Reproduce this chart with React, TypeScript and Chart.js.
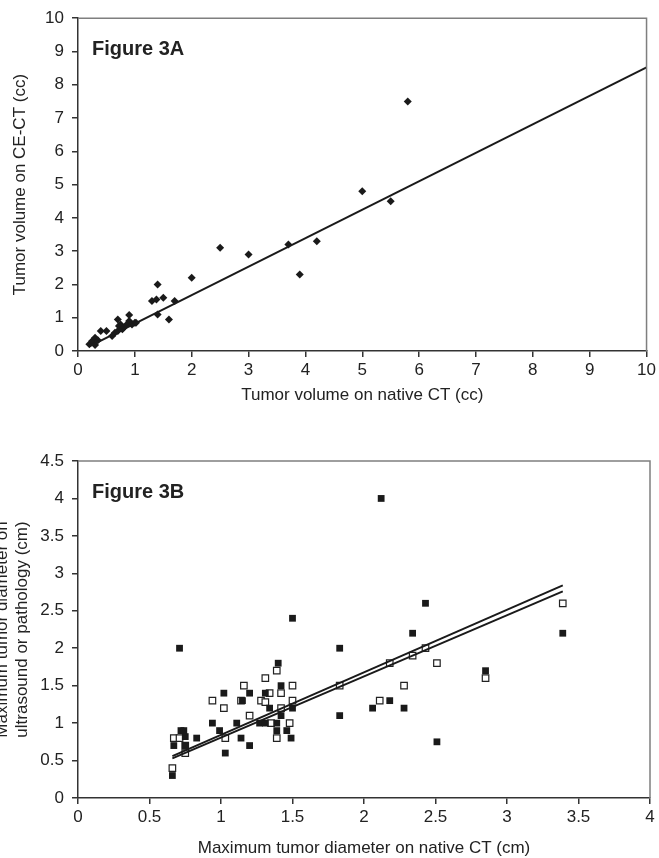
import React, { useEffect, useRef } from "react";
import { Chart, registerables } from "chart.js";

Chart.register(...registerables);

// ---------- Figure 3A data ----------
const nativeVolumeCC = [0.2, 0.25, 0.3, 0.3, 0.35, 0.4, 0.5, 0.6, 0.65, 0.7, 0.7, 0.72, 0.75, 0.78, 0.8, 0.85, 0.9, 0.9, 0.95, 1.0, 1.02, 1.3, 1.38, 1.4, 1.4, 1.5, 1.6, 1.7, 2.0, 2.5, 3.0, 3.7, 3.9, 4.2, 5.0, 5.5, 5.8];
const ceVolumeCC = [0.2, 0.3, 0.18, 0.4, 0.32, 0.6, 0.6, 0.45, 0.55, 0.6, 0.95, 0.75, 0.8, 0.65, 0.7, 0.78, 0.9, 1.08, 0.8, 0.85, 0.85, 1.5, 1.55, 2.0, 1.1, 1.6, 0.95, 1.5, 2.2, 3.1, 2.9, 3.2, 2.3, 3.3, 4.8, 4.5, 7.5];
const fitA_x = [0.2, 10];
const fitA_y = [0.14, 8.52];
const ticksA_x = { min: 0, max: 10, step: 1 };
const ticksA_y = { min: 0, max: 10, step: 1 };

// ---------- Figure 3B data ----------
const nativeDiamFilled = [0.66, 0.67, 0.71, 0.72, 0.74, 0.75, 0.75, 0.83, 0.94, 0.99, 1.02, 1.03, 1.11, 1.14, 1.15, 1.2, 1.2, 1.27, 1.31, 1.31, 1.34, 1.39, 1.39, 1.4, 1.42, 1.42, 1.46, 1.49, 1.5, 1.5, 1.83, 1.83, 2.06, 2.12, 2.18, 2.28, 2.34, 2.43, 2.51, 2.85, 3.39];
const refDiamFilled = [0.3, 0.7, 2.0, 0.9, 0.9, 0.82, 0.7, 0.8, 1.0, 0.9, 1.4, 0.6, 1.0, 0.8, 1.3, 1.4, 0.7, 1.0, 1.0, 1.4, 1.2, 1.0, 0.9, 1.8, 1.5, 1.1, 0.9, 0.8, 1.2, 2.4, 2.0, 1.1, 1.2, 4.0, 1.3, 1.2, 2.2, 2.6, 0.75, 1.7, 2.2];
const nativeDiamOpen = [0.66, 0.67, 0.71, 0.75, 0.75, 0.94, 1.02, 1.03, 1.14, 1.16, 1.2, 1.28, 1.31, 1.31, 1.34, 1.35, 1.39, 1.39, 1.42, 1.42, 1.48, 1.5, 1.5, 1.83, 2.11, 2.18, 2.28, 2.34, 2.43, 2.51, 2.85, 3.39];
const refDiamOpen = [0.4, 0.8, 0.8, 0.7, 0.6, 1.3, 1.2, 0.8, 1.3, 1.5, 1.1, 1.3, 1.6, 1.28, 1.4, 1.0, 1.7, 0.8, 1.4, 1.2, 1.0, 1.5, 1.3, 1.5, 1.3, 1.8, 1.5, 1.9, 2.0, 1.8, 1.6, 2.6];
const fitB1_x = [0.66, 3.39];
const fitB1_y = [0.56, 2.84];
const fitB2_x = [0.66, 3.39];
const fitB2_y = [0.53, 2.76];
const ticksB_x = { min: 0, max: 4, step: 0.5 };
const ticksB_y = { min: 0, max: 4.5, step: 0.5 };

const FONT = '"Liberation Sans", Arial, sans-serif';
const INK = "#222222";
const AXIS = "#333333";

const zip = (xs: number[], ys: number[]) => xs.map((x, i) => ({ x, y: ys[i] }));

const framePlugin = {
  id: "frameAndLabel",
  afterDraw(chart: any, _args: any, opts: any) {
    const { ctx, chartArea } = chart;
    const { left, right, top, bottom } = chartArea;
    ctx.save();
    ctx.strokeStyle = "#7f7f7f";
    ctx.lineWidth = 1.5;
    ctx.beginPath();
    ctx.moveTo(left, top);
    ctx.lineTo(right, top);
    ctx.lineTo(right, bottom);
    ctx.stroke();
    ctx.fillStyle = INK;
    ctx.font = `bold 20px ${FONT}`;
    ctx.textBaseline = "middle";
    ctx.textAlign = "left";
    ctx.fillText(opts.label, left + 14, top + 31);
    ctx.restore();
  },
};

function axis(range: { min: number; max: number; step: number }, title: any, fit: (s: any) => void, tickPad: number) {
  return {
    type: "linear",
    min: range.min,
    max: range.max,
    ticks: {
      stepSize: range.step,
      color: INK,
      padding: tickPad,
      font: { family: FONT, size: 17 },
      callback: (v: any) => String(Math.round(Number(v) * 10) / 10),
    },
    grid: { drawOnChartArea: false, drawTicks: true, tickLength: 6, color: AXIS, lineWidth: 1.5 },
    border: { display: true, color: AXIS, width: 1.5 },
    title,
    afterFit: fit,
  };
}

function makeChartA(canvas: HTMLCanvasElement) {
  return new Chart(canvas, {
    type: "scatter",
    data: {
      datasets: [
        {
          data: zip(fitA_x, fitA_y),
          showLine: true,
          pointRadius: 0,
          borderColor: "#1a1a1a",
          borderWidth: 2,
          fill: false,
        } as any,
        {
          data: zip(nativeVolumeCC, ceVolumeCC),
          pointStyle: "rectRot",
          pointRadius: 4,
          backgroundColor: "#1a1a1a",
          borderColor: "#1a1a1a",
          borderWidth: 0,
        },
      ],
    },
    options: {
      animation: false,
      responsive: false,
      layout: { padding: { top: 14, right: 12, left: 0, bottom: 0 } },
      plugins: { legend: { display: false }, tooltip: { enabled: false }, frameAndLabel: { label: "Figure 3A" } } as any,
      scales: {
        x: axis(
          ticksA_x,
          { display: true, text: "Tumor volume on native CT (cc)", color: INK, font: { family: FONT, size: 17 }, padding: { top: 0, bottom: 4 } },
          (s: any) => { s.height = 59; },
          3
        ),
        y: axis(
          ticksA_y,
          { display: true, text: "Tumor volume on CE-CT (cc)", color: INK, font: { family: FONT, size: 17 }, padding: { top: 10, bottom: 0 } },
          (s: any) => { s.width = 78; },
          8
        ),
      } as any,
    },
    plugins: [framePlugin],
  });
}

function makeChartB(canvas: HTMLCanvasElement) {
  return new Chart(canvas, {
    type: "scatter",
    data: {
      datasets: [
        {
          data: zip(fitB1_x, fitB1_y),
          showLine: true,
          pointRadius: 0,
          borderColor: "#1a1a1a",
          borderWidth: 2,
          fill: false,
        } as any,
        {
          data: zip(fitB2_x, fitB2_y),
          showLine: true,
          pointRadius: 0,
          borderColor: "#1a1a1a",
          borderWidth: 2,
          fill: false,
        } as any,
        {
          data: zip(nativeDiamFilled, refDiamFilled),
          pointStyle: "rect",
          pointRadius: 4.8,
          backgroundColor: "#1a1a1a",
          borderColor: "#1a1a1a",
          borderWidth: 0,
        },
        {
          data: zip(nativeDiamOpen, refDiamOpen),
          pointStyle: "rect",
          pointRadius: 4.6,
          backgroundColor: "#ffffff",
          borderColor: "#222222",
          borderWidth: 1.2,
        },
      ],
    },
    options: {
      animation: false,
      responsive: false,
      layout: { padding: { top: 51, right: 9, left: 0, bottom: 0 } },
      plugins: { legend: { display: false }, tooltip: { enabled: false }, frameAndLabel: { label: "Figure 3B" } } as any,
      scales: {
        x: axis(
          ticksB_x,
          { display: true, text: "Maximum tumor diameter on native CT (cm)", color: INK, font: { family: FONT, size: 17 }, padding: { top: 0, bottom: -1 } },
          (s: any) => { s.height = 60; },
          3
        ),
        y: axis(
          ticksB_y,
          {
            display: true,
            text: ["Maximum tumor diameter on", "ultrasound or pathology (cm)"],
            color: INK,
            font: { family: FONT, size: 17, lineHeight: 1.15 },
            padding: { top: -7, bottom: 0 },
          },
          (s: any) => { s.width = 78; },
          8
        ),
      } as any,
    },
    plugins: [framePlugin],
  });
}

export default function App() {
  const refA = useRef<HTMLCanvasElement | null>(null);
  const refB = useRef<HTMLCanvasElement | null>(null);

  useEffect(() => {
    const a = refA.current ? makeChartA(refA.current) : null;
    const b = refB.current ? makeChartB(refB.current) : null;
    return () => {
      a?.destroy();
      b?.destroy();
    };
  }, []);

  return (
    <div style={{ position: "absolute", left: 0, top: 0, width: 659, height: 858, background: "#ffffff" }}>
      <canvas ref={refA} width={659} height={410} style={{ position: "absolute", left: 0, top: 0, display: "block" }} />
      <canvas ref={refB} width={659} height={448} style={{ position: "absolute", left: 0, top: 410, display: "block" }} />
    </div>
  );
}
